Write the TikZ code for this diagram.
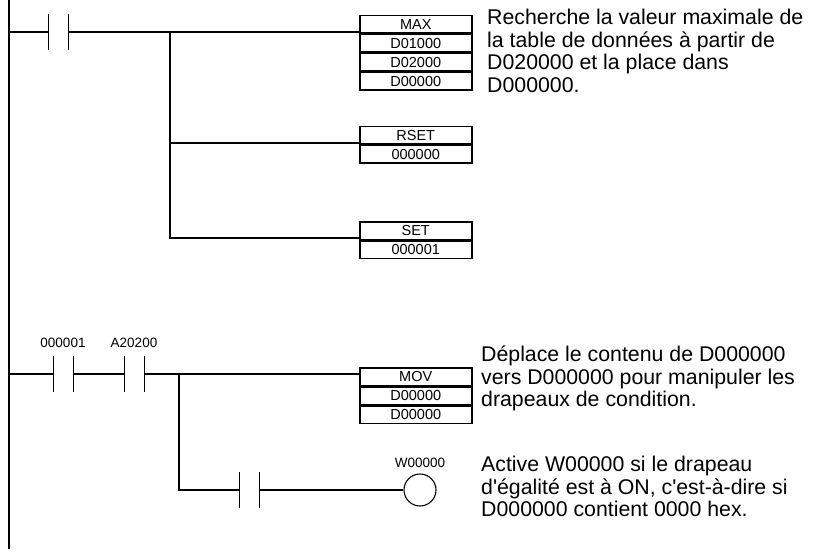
\documentclass[tikz,border=0pt]{standalone}
\usepackage{fontspec}
\setmainfont{Liberation Sans}
\usetikzlibrary{positioning}
\tikzset{
  wire/.style={line width=1.1pt},
  cell/.style={draw, line width=1.5pt, minimum width=112pt, minimum height=17.5pt,
    inner sep=0pt, font=\fontsize{14.5}{14.5}\selectfont},
  contact/.style={minimum width=20pt, minimum height=35pt, inner sep=0pt,
    append after command={[line width=1.3pt]
      (\tikzlastnode.north west) edge (\tikzlastnode.south west)
      (\tikzlastnode.north east) edge (\tikzlastnode.south east)}},
  coil/.style={draw, circle, line width=1.1pt, minimum size=32pt, inner sep=0pt},
  tag/.style={font=\fontsize{13.5}{14}\selectfont, inner sep=0pt},
  note/.style={align=left, anchor=north west, inner sep=0pt,
    font=\fontsize{21.3}{22.5}\selectfont}
}
\begin{document}
\begin{tikzpicture}[x=1pt, y=-1pt]
\useasboundingbox (0,0) rectangle (814,559);
% left rail
\coordinate (top) at (9,0);
\coordinate (bot) at (9,549);
\draw[wire] (top) -- (bot);

% rung 1
\node[contact] (c0) at (58,32) {};
\coordinate (r1) at (9,32);
\coordinate (j1) at (170,32);
\coordinate (j2) at (170,143);
\coordinate (j3) at (170,238);
\node[cell, anchor=north west] (max) at (359,15) {MAX};
\node[cell, below=0pt of max] (maxa) {D01000};
\node[cell, below=0pt of maxa] (maxb) {D02000};
\node[cell, below=0pt of maxb] (maxc) {D00000};
\node[cell, anchor=north west] (rset) at (359,126) {RSET};
\node[cell, below=0pt of rset] (rseta) {000000};
\node[cell, anchor=north west] (set) at (359,221) {SET};
\node[cell, below=0pt of set] (seta) {000001};
\draw[wire] (r1) -- (c0.west) (c0.east) -- (j1) -- (max.west |- j1);
\draw[wire] (j1) -- (j3) -- (set.west |- j3);
\draw[wire] (j2) -- (rset.west |- j2);

% rung 2
\node[contact] (c1) at (63,374) {};
\node[contact] (c2) at (134,374) {};
\node[tag, above=8pt of c1] {000001};
\node[tag, above=8pt of c2] {A20200};
\coordinate (r2) at (9,374);
\coordinate (k1) at (179,374);
\coordinate (k2) at (179,490);
\node[cell, anchor=north west] (mov) at (359,367) {MOV};
\node[cell, below=0pt of mov] (mova) {D00000};
\node[cell, below=0pt of mova] (movb) {D00000};
\node[contact] (c3) at (249,490) {};
\node[coil] (out) at (420,490) {};
\node[tag, above=6pt of out] {W00000};
\draw[wire] (r2) -- (c1.west) (c1.east) -- (c2.west) (c2.east) -- (k1) -- (mov.west |- k1);
\draw[wire] (k1) -- (k2) -- (c3.west) (c3.east) -- (out.west);

% comments
\node[note] at (487,9) {Recherche la valeur maximale de\\la table de données à partir de\\D020000 et la place dans\\D000000.};
\node[note] at (481,346) {Déplace le contenu de D000000\\vers D000000 pour manipuler les\\drapeaux de condition.};
\node[note] at (481,456) {Active W00000 si le drapeau\\d\textquotesingle égalité est à ON, c\textquotesingle est-à-dire si\\D000000 contient 0000 hex.};
\end{tikzpicture}
\end{document}
